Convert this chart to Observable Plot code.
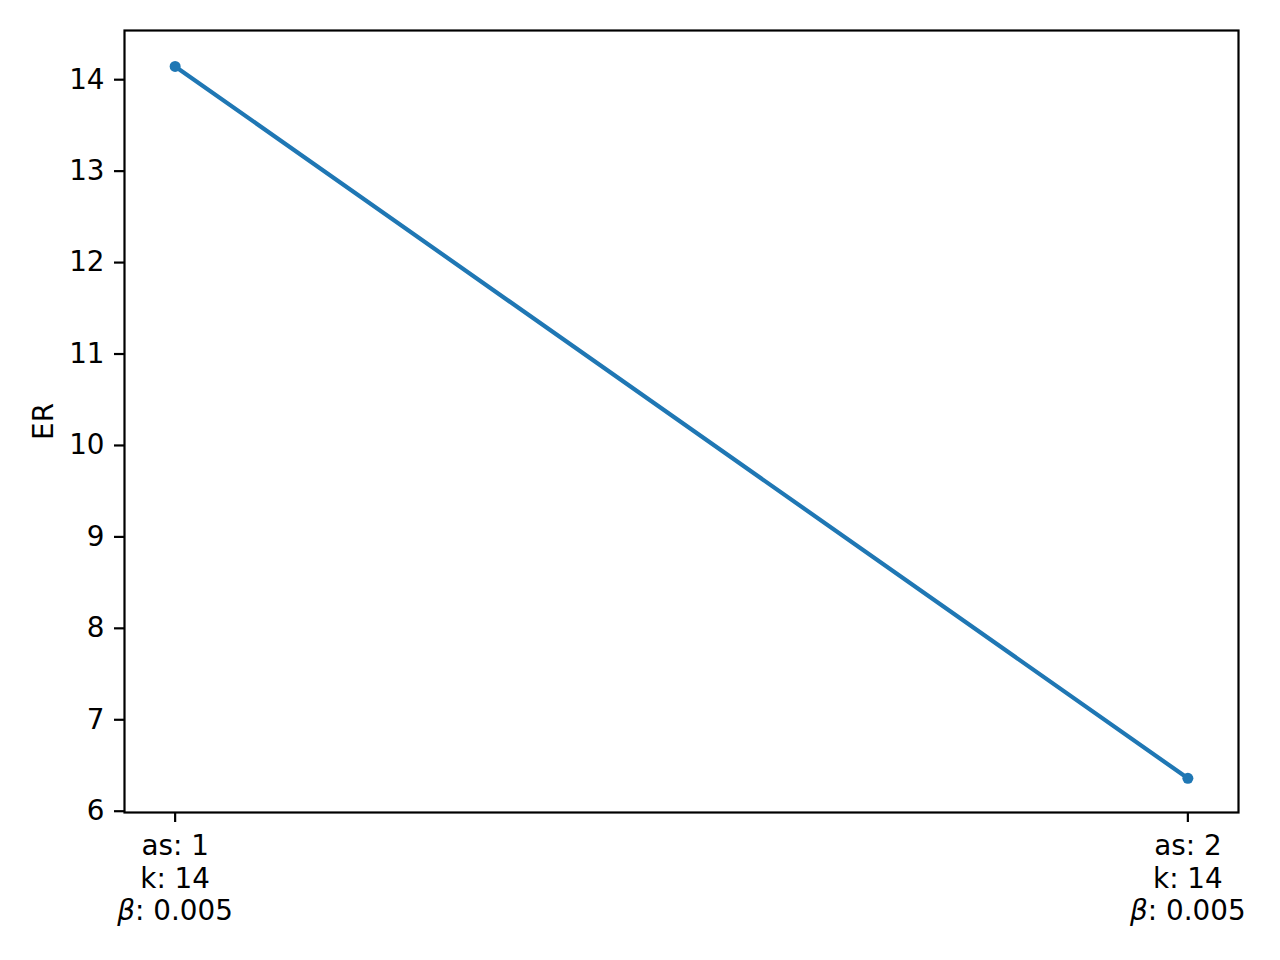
<!DOCTYPE html>
<html><head><meta charset="utf-8">
<script src="https://cdn.jsdelivr.net/npm/d3@7"></script>
<script src="https://cdn.jsdelivr.net/npm/@observablehq/plot@0.6"></script>
<style>body{margin:0;background:#fff;}</style>
</head><body><div id="chart"></div>
<script>
const asValues = [1, 2];
const kValues = [14, 14];
const betaValues = ["0.005", "0.005"];
const erValues = [14.145, 6.36];
const yTicks = [6, 7, 8, 9, 10, 11, 12, 13, 14];
const yDomain = [5.986, 14.538];

const data = erValues.map((er, i) => ({i, er}));
const tickLabel = i => `as: ${asValues[i]}\nk: ${kValues[i]}\nβ: ${betaValues[i]}`;

const chart = Plot.plot({
  width: 1280, height: 960,
  marginLeft: 124, marginRight: 42, marginTop: 30, marginBottom: 148,
  style: {fontFamily: "DejaVu Sans", fontSize: "27.8px", color: "black", background: "white"},
  x: {domain: [-0.05, 1.05]},
  y: {domain: yDomain},
  marks: [
    Plot.frame({stroke: "black", strokeWidth: 2.2}),
    Plot.axisY({ticks: yTicks, tickSize: 10, tickPadding: 10, strokeWidth: 2.2, label: "ER", labelAnchor: "center", labelArrow: "none", labelOffset: 91, fontSize: 27.8}),
    Plot.axisX({ticks: [0, 1], tickFormat: tickLabel, tickSize: 10, tickPadding: 9, strokeWidth: 2.2, label: null, lineHeight: 1.18, fontSize: 27.8}),
    Plot.line(data, {x: "i", y: "er", stroke: "#1f77b4", strokeWidth: 4.2}),
    Plot.dot(data, {x: "i", y: "er", fill: "#1f77b4", r: 5.5})
  ]
});

// italic beta like matplotlib mathtext
chart.querySelectorAll("tspan").forEach(t => {
  const s = t.textContent;
  if (s.startsWith("β")) {
    t.textContent = "";
    const ns = "http://www.w3.org/2000/svg";
    const a = document.createElementNS(ns, "tspan");
    a.setAttribute("font-style", "italic");
    a.textContent = "β";
    const b = document.createElementNS(ns, "tspan");
    b.textContent = s.slice(1);
    t.appendChild(a); t.appendChild(b);
  }
});
document.getElementById("chart").appendChild(chart);
</script>
</body></html>
